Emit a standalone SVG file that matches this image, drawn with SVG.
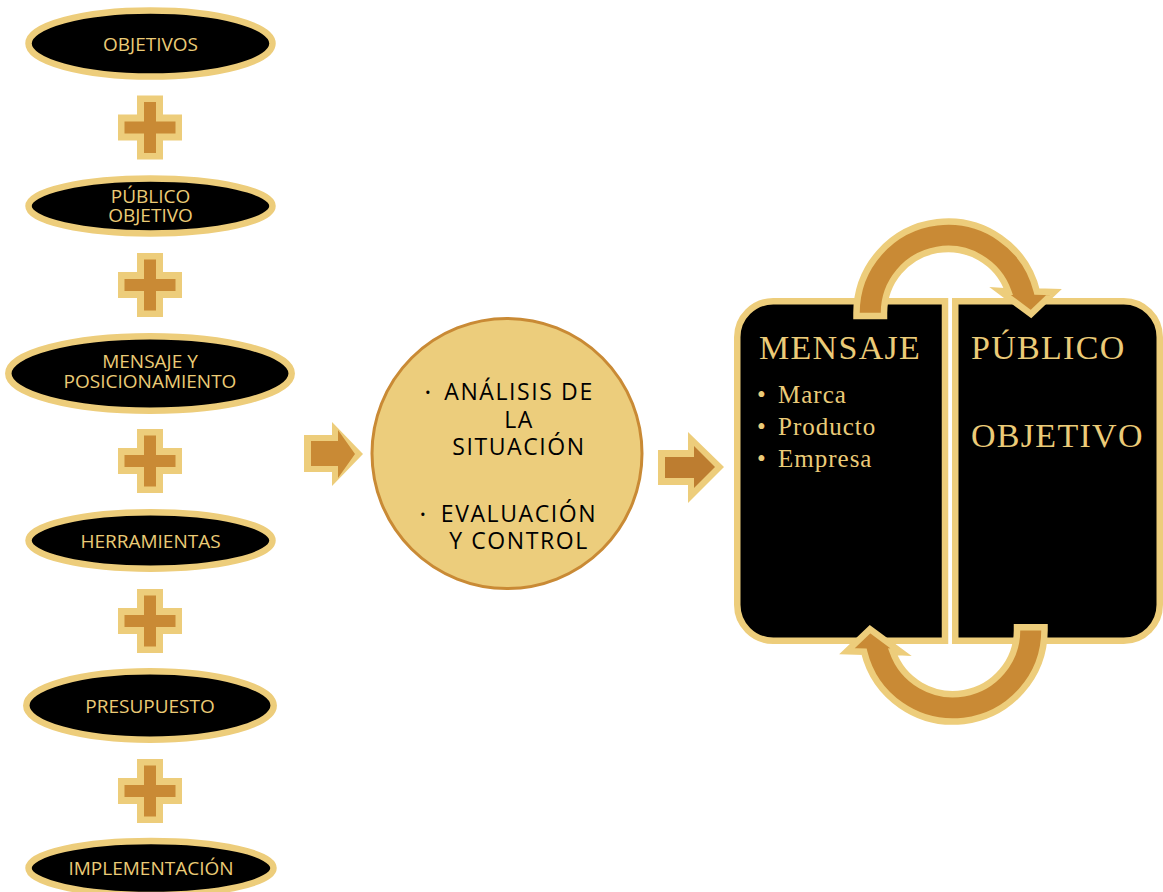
<svg xmlns="http://www.w3.org/2000/svg" xmlns:xlink="http://www.w3.org/1999/xlink" width="1163" height="892" viewBox="0 0 1163 892">
  <style>
    .oval { fill: #000000; stroke: #EDCD7B; stroke-width: 6.5; }
    .oval-text { font-family: "Open Sans", "Liberation Sans", sans-serif; font-size: 19px; fill: #EBCB76; text-anchor: middle; }
    .panel { fill: #000000; stroke: #EDCD7B; stroke-width: 6.5; }
    .panel-title { font-family: "Liberation Serif", serif; font-size: 34px; fill: #EBCB78; letter-spacing: 1.3px; }
    .panel-item { font-family: "Liberation Serif", serif; font-size: 25px; fill: #EBCB78; letter-spacing: 1px; }
    .hub { fill: #ECCD7C; stroke: #C98A35; stroke-width: 3; }
    .hub-text { font-family: "Open Sans", "Liberation Sans", sans-serif; font-size: 23px; fill: #000000; text-anchor: middle; letter-spacing: 1.6px; }
    .hub-bullet { font-family: "Open Sans", "Liberation Sans", sans-serif; font-size: 15px; fill: #000000; }
    .gold { fill: #EDCD7B; }
    .amber { fill: #C98A35; }
    .amber-dark { fill: #BD7D30; }
    .loop { fill: #C98A35; stroke: #EDCD7B; stroke-width: 6.5; stroke-linejoin: miter; stroke-miterlimit: 10; }
  </style>
  <defs>
    <g id="plus-sign">
      <polygon class="gold" points="-13,-32 13,-32 13,-13 32,-13 32,13 13,13 13,32 -13,32 -13,13 -32,13 -32,-13 -13,-13"/>
      <polygon class="amber" points="-6,-25.5 6,-25.5 6,-6 25.5,-6 25.5,6 6,6 6,25.5 -6,25.5 -6,6 -25.5,6 -25.5,-6 -6,-6"/>
    </g>
    <path id="loop-arrow" d="M 856.5 316 L 856.5 313 A 91.5 91.5 0 0 1 1036.9 291.5 L 1054 292 L 1031 314 L 1000 291 L 1008.3 291.5 A 64 64 0 0 0 884 313 L 884 316 Z"/>
  </defs>

  <rect width="1163" height="892" fill="#FFFFFF"/>

  <!-- left column: planning elements -->
  <g id="objetivos">
    <ellipse class="oval" cx="150.5" cy="43.5" rx="122" ry="33"/>
    <text class="oval-text" x="150.5" y="51">OBJETIVOS</text>
  </g>
  <g id="publico-objetivo">
    <ellipse class="oval" cx="150.5" cy="206" rx="122" ry="27.5"/>
    <text class="oval-text" x="150.5" y="203">PÚBLICO</text>
    <text class="oval-text" x="150.5" y="222">OBJETIVO</text>
  </g>
  <g id="mensaje-posicionamiento">
    <ellipse class="oval" cx="150" cy="373.5" rx="141.7" ry="37.2"/>
    <text class="oval-text" x="150" y="368">MENSAJE Y</text>
    <text class="oval-text" x="150" y="388">POSICIONAMIENTO</text>
  </g>
  <g id="herramientas">
    <ellipse class="oval" cx="150.5" cy="540.5" rx="122" ry="28.2"/>
    <text class="oval-text" x="150.5" y="548">HERRAMIENTAS</text>
  </g>
  <g id="presupuesto">
    <ellipse class="oval" cx="150" cy="705.5" rx="123.7" ry="34.2"/>
    <text class="oval-text" x="150" y="713">PRESUPUESTO</text>
  </g>
  <g id="implementacion">
    <ellipse class="oval" cx="151" cy="868" rx="122.5" ry="27"/>
    <text class="oval-text" x="151" y="875">IMPLEMENTACIÓN</text>
  </g>

  <!-- plus signs between the elements -->
  <g id="operators">
    <use xlink:href="#plus-sign" href="#plus-sign" x="150" y="127.5"/>
    <use xlink:href="#plus-sign" href="#plus-sign" x="150" y="285"/>
    <use xlink:href="#plus-sign" href="#plus-sign" x="150" y="461"/>
    <use xlink:href="#plus-sign" href="#plus-sign" x="150" y="621"/>
    <use xlink:href="#plus-sign" href="#plus-sign" x="150" y="791"/>
  </g>

  <!-- central circle -->
  <g id="analisis">
    <circle class="hub" cx="507" cy="453.5" r="135"/>
    <text class="hub-bullet" x="425" y="398">•</text>
    <text class="hub-text" x="519" y="399.5">ANÁLISIS DE</text>
    <text class="hub-text" x="519" y="427.5">LA</text>
    <text class="hub-text" x="519" y="455">SITUACIÓN</text>
    <text class="hub-bullet" x="420" y="520">•</text>
    <text class="hub-text" x="519" y="521.5">EVALUACIÓN</text>
    <text class="hub-text" x="519" y="549">Y CONTROL</text>
  </g>

  <!-- right block: message and audience -->
  <g id="mensaje">
    <path class="panel" d="M 945 301.25 L 773.25 301.25 A 36 36 0 0 0 737.25 337.25 L 737.25 604.75 A 36 36 0 0 0 773.25 640.75 L 945 640.75 Z"/>
    <text class="panel-title" x="759" y="359">MENSAJE</text>
    <text class="panel-item" x="757" y="403">•</text>
    <text class="panel-item" x="778" y="403">Marca</text>
    <text class="panel-item" x="757" y="435">•</text>
    <text class="panel-item" x="778" y="435">Producto</text>
    <text class="panel-item" x="757" y="467">•</text>
    <text class="panel-item" x="778" y="467">Empresa</text>
  </g>
  <g id="publico">
    <path class="panel" d="M 955.25 301.25 L 1123.75 301.25 A 36 36 0 0 1 1159.75 337.25 L 1159.75 604.75 A 36 36 0 0 1 1123.75 640.75 L 955.25 640.75 Z"/>
    <text class="panel-title" x="971" y="359">PÚBLICO</text>
    <text class="panel-title" x="971" y="447">OBJETIVO</text>
  </g>

  <!-- arrows -->
  <g id="connectors">
    <g id="arrow-to-circle">
      <polygon class="gold" points="304,435 332,435 332,422 363,454 332,486 332,472 304,472"/>
      <polygon class="amber" points="311,441 338,441 338,430 355,454 338,478 338,466 311,466"/>
    </g>
    <g id="arrow-to-panels">
      <polygon class="gold" points="658,450 688,450 688,432 724,467 688,503 688,485 658,485"/>
      <polygon class="amber-dark" points="665,457 694,457 694,446 715,467 694,488 694,478 665,478"/>
    </g>
    <use id="loop-top" class="loop" xlink:href="#loop-arrow" href="#loop-arrow"/>
    <use id="loop-bottom" class="loop" xlink:href="#loop-arrow" href="#loop-arrow" transform="rotate(180 950.5 471.6)"/>
  </g>
</svg>
